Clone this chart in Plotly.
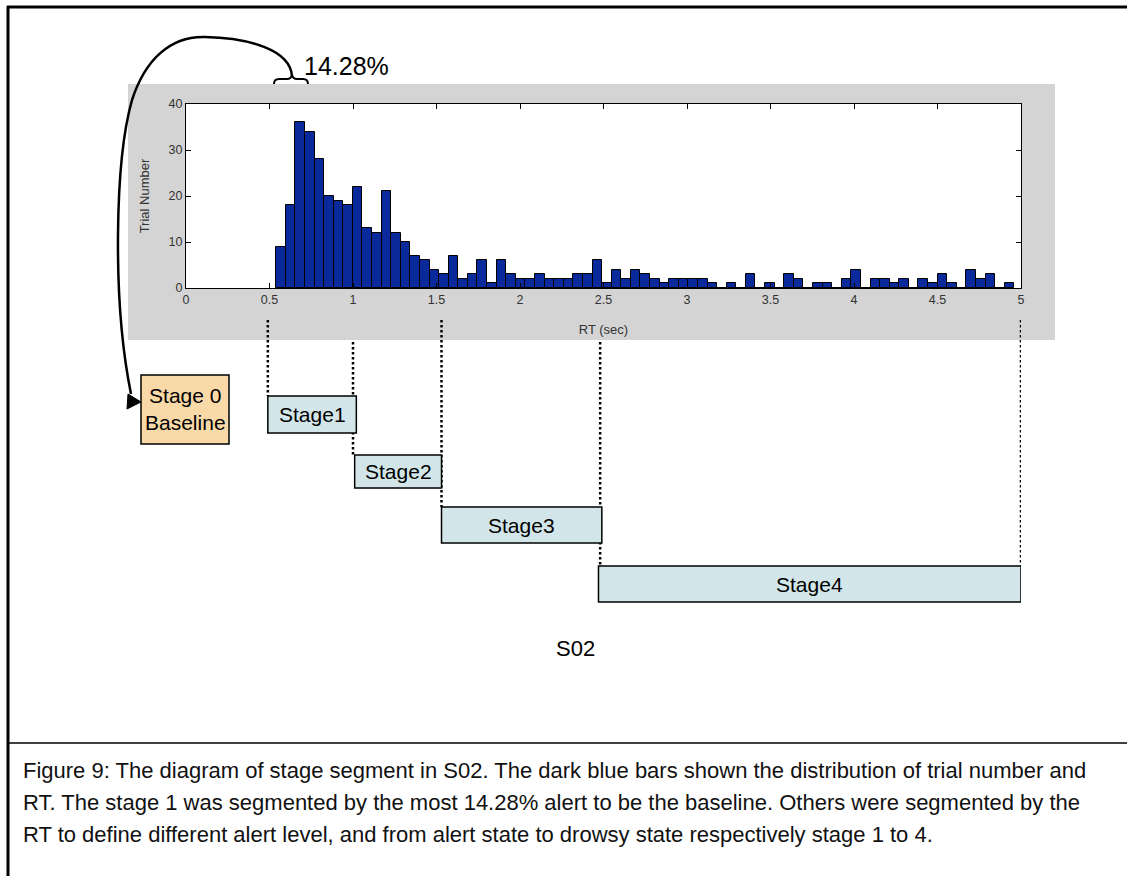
import numpy as np
import plotly.graph_objects as go

W, H = 1127, 876

# ---------------- data ----------------
bin_start = 0.54        # left edge of first histogram bin (sec)
bin_width = 0.0574      # histogram bin width (sec)
trial_counts = [9, 18, 36, 34, 28, 20, 19, 18, 22, 13,
                12, 21, 12, 10, 7, 6, 4, 3, 7, 2,
                3, 6, 1, 6, 3, 2, 2, 3, 2, 2,
                2, 3, 3, 6, 1, 4, 2, 4, 3, 2,
                1, 2, 2, 2, 2, 1, 0, 1, 0, 3,
                0, 1, 0, 3, 2, 0, 1, 1, 0, 2,
                4, 0, 2, 2, 1, 2, 0, 2, 1, 3,
                1, 0, 4, 2, 3, 0, 1]
bin_centers = bin_start + bin_width * (np.arange(len(trial_counts)) + 0.5)

x_ticks = [0, 0.5, 1, 1.5, 2, 2.5, 3, 3.5, 4, 4.5, 5]
x_tick_labels = ["0", "0.5", "1", "1.5", "2", "2.5", "3", "3.5", "4", "4.5", "5"]
y_ticks = [0, 10, 20, 30, 40]
y_tick_labels = ["0", "10", "20", "30", "40"]

stage_labels = ["Stage1", "Stage2", "Stage3", "Stage4"]
stage_start = [0.49, 1.01, 1.53, 2.47]
stage_end = [1.02, 1.53, 2.49, 5.0]
cut_points = [0.49, 1.0, 1.53, 2.48, 5.0]
baseline_label = ["Stage 0", "Baseline"]
baseline_pct = "14.28%"
subject = "S02"
caption_lines = [
    "Figure 9: The diagram of stage segment in S02. The dark blue bars shown the distribution of trial number and",
    "RT. The stage 1 was segmented by the most 14.28% alert to be the baseline. Others were segmented by the",
    "RT to define different alert level, and from alert state to drowsy state respectively stage 1 to 4.",
]

# ---------------- helpers (pixel -> paper) ----------------
def px(x):
    return x / W

def py(y):
    return 1 - y / H

def path_px(cmds):
    out = []
    for c in cmds:
        if isinstance(c, str):
            out.append(c)
        else:
            out.append("%.5f,%.5f" % (px(c[0]), py(c[1])))
    return " ".join(out)

FONT = "Liberation Sans, Arial, Helvetica, sans-serif"

fig = go.Figure()
fig.add_trace(go.Bar(
    x=bin_centers, y=trial_counts, width=bin_width,
    marker=dict(color="#0a2a9c", line=dict(color="#000000", width=1)),
    showlegend=False, hoverinfo="x+y",
))

shapes = []
# gray matlab figure panel
shapes.append(dict(type="rect", xref="paper", yref="paper",
                   x0=px(128), x1=px(1055), y0=py(340), y1=py(84),
                   fillcolor="#d4d4d4", line=dict(width=0), layer="below"))
# white axes background
shapes.append(dict(type="rect", xref="x domain", yref="y domain",
                   x0=0, x1=1, y0=0, y1=1,
                   fillcolor="#ffffff", line=dict(width=0), layer="below"))
# frame lines
shapes.append(dict(type="line", xref="paper", yref="paper",
                   x0=px(7), x1=px(1127), y0=py(7), y1=py(7),
                   line=dict(color="#000", width=3)))
shapes.append(dict(type="line", xref="paper", yref="paper",
                   x0=px(8), x1=px(8), y0=py(6), y1=py(876),
                   line=dict(color="#000", width=3)))
shapes.append(dict(type="line", xref="paper", yref="paper",
                   x0=px(8), x1=px(1127), y0=py(743), y1=py(743),
                   line=dict(color="#000", width=1.5)))

# dotted stage boundary lines
line_top = [320, 342, 320, 342, 320]
line_bot = [396, 455, 507, 566, 566]
for c, t, b in zip(cut_points, line_top, line_bot):
    shapes.append(dict(type="line", xref="x", yref="paper",
                       x0=c, x1=c, y0=py(t), y1=py(b),
                       line=dict(color="#000", width=2.5, dash="2.5px,2.5px")))

# stage boxes
box_top = [396, 455, 507, 566]
box_bot = [433, 488, 543, 602]
annotations = []
for lab, s, e, t, b in zip(stage_labels, stage_start, stage_end, box_top, box_bot):
    shapes.append(dict(type="rect", xref="x", yref="paper",
                       x0=s, x1=e, y0=py(b), y1=py(t),
                       fillcolor="#d2e6ea", line=dict(color="#000", width=1.5)))
    annotations.append(dict(xref="x", yref="paper", x=(s + e) / 2, y=py((t + b) / 2),
                            text=lab, showarrow=False, xanchor="center", yanchor="middle",
                            font=dict(family=FONT, size=21, color="#000")))

# baseline box
shapes.append(dict(type="rect", xref="paper", yref="paper",
                   x0=px(141), x1=px(229), y0=py(444), y1=py(375),
                   fillcolor="#fad9a8", line=dict(color="#000", width=1.5)))
annotations.append(dict(xref="paper", yref="paper", x=px(185), y=py(409),
                        text="<br>".join(baseline_label), showarrow=False,
                        xanchor="center", yanchor="middle",
                        font=dict(family=FONT, size=21, color="#000")))

# curly brace over the first bins
shapes.append(dict(type="path", xref="paper", yref="paper",
                   path=path_px(["M", (274, 84), "Q", (274, 79), (279, 79), "L", (287, 79),
                                 "Q", (291, 79), (292, 75), "Q", (293, 79), (297, 79),
                                 "L", (303, 79), "Q", (308, 79), (308, 84)]),
                   line=dict(color="#000", width=2)))
# curved arrow from brace to baseline box
shapes.append(dict(type="path", xref="paper", yref="paper",
                   path=path_px(["M", (292, 76), "C", (290, 50), (250, 38), (205, 37),
                                 "C", (170, 36), (145, 60), (132, 100),
                                 "C", (115, 160), (112, 300), (131, 394)]),
                   line=dict(color="#000", width=2.5)))
shapes.append(dict(type="path", xref="paper", yref="paper",
                   path=path_px(["M", (141, 402), "L", (128, 394), "L", (127, 409), "Z"]),
                   fillcolor="#000", line=dict(color="#000", width=1)))

annotations.append(dict(xref="paper", yref="paper", x=px(302), y=py(66),
                        text=baseline_pct, showarrow=False, xanchor="left", yanchor="middle",
                        font=dict(family=FONT, size=25, color="#000")))
annotations.append(dict(xref="paper", yref="paper", x=px(575), y=py(648),
                        text=subject, showarrow=False, xanchor="center", yanchor="middle",
                        font=dict(family=FONT, size=22, color="#000")))
for i, ln in enumerate(caption_lines):
    annotations.append(dict(xref="paper", yref="paper", x=px(21), y=py(770 + 32 * i),
                            text=ln, showarrow=False, xanchor="left", yanchor="middle",
                            font=dict(family=FONT, size=22, color="#111")))

fig.update_layout(
    width=W, height=H, autosize=False,
    margin=dict(l=0, r=0, t=0, b=0, pad=0),
    paper_bgcolor="#ffffff", plot_bgcolor="#ffffff",
    bargap=0,
    shapes=shapes, annotations=annotations,
    font=dict(family=FONT),
    xaxis=dict(domain=[px(186), px(1021)], range=[0, 5],
               tickvals=x_ticks, ticktext=x_tick_labels,
               ticks="inside", ticklen=5, tickcolor="#000", tickwidth=1,
               showline=True, linecolor="#000", linewidth=1, mirror="ticks",
               showgrid=False, zeroline=False, automargin=False,
               tickfont=dict(family=FONT, size=12.5, color="#333"),
               title=dict(text="RT (sec)", font=dict(family=FONT, size=13, color="#333"), standoff=18)),
    yaxis=dict(domain=[py(288), py(104)], range=[0, 40],
               tickvals=y_ticks, ticktext=y_tick_labels,
               ticks="inside", ticklen=5, tickcolor="#000", tickwidth=1,
               showline=True, linecolor="#000", linewidth=1, mirror="ticks",
               showgrid=False, zeroline=False, automargin=False,
               tickfont=dict(family=FONT, size=12.5, color="#333"),
               title=dict(text="Trial Number", font=dict(family=FONT, size=13, color="#333"), standoff=16)),
)

fig.write_html("out.html", config={"displayModeBar": False},
               post_script="document.body.style.margin='0';")
